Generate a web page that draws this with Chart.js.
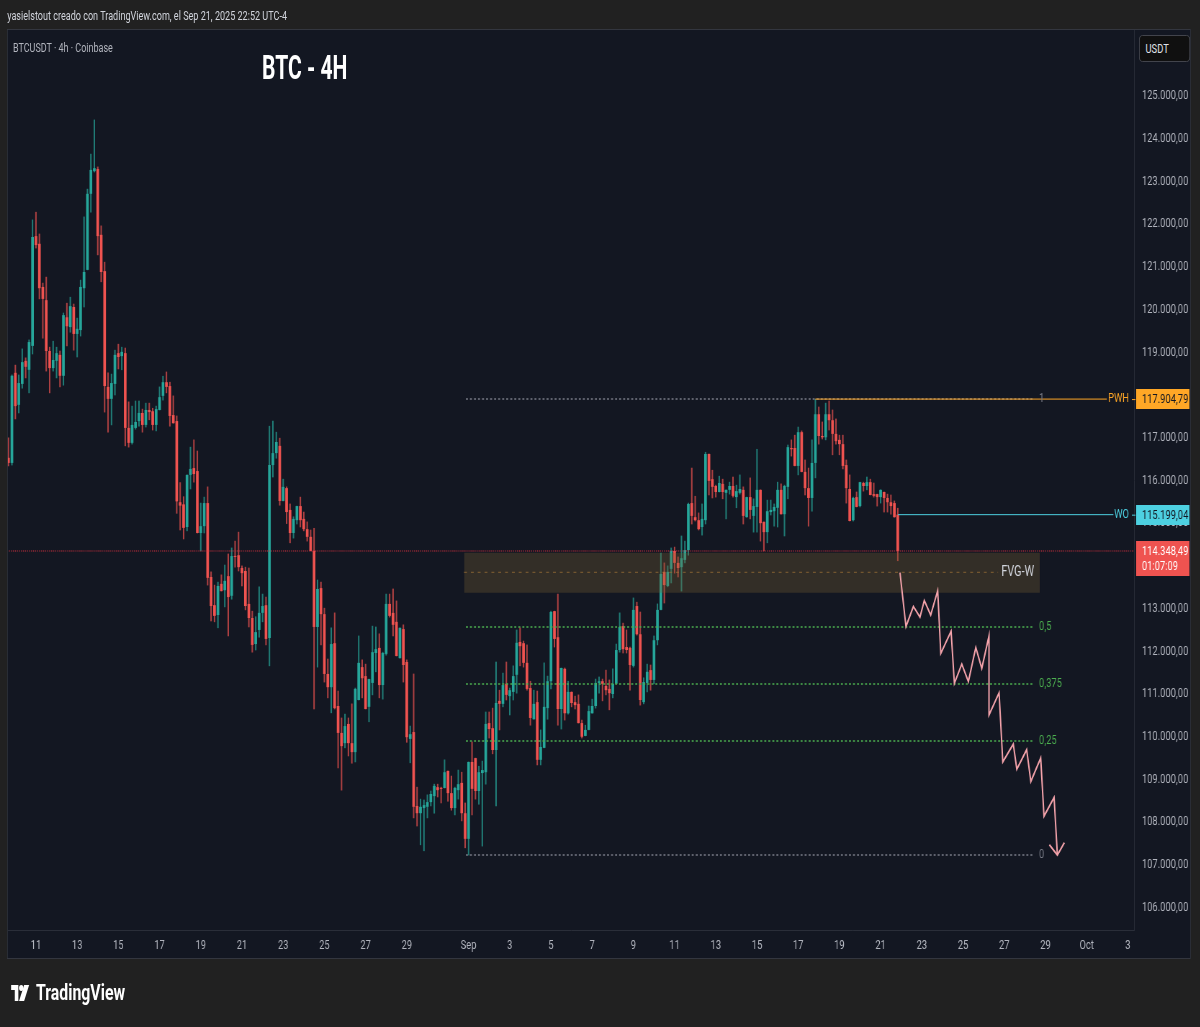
<!DOCTYPE html>
<html>
<head>
<meta charset="utf-8">
<script src="https://cdn.jsdelivr.net/npm/chart.js@4.4.1/dist/chart.umd.min.js"></script>
<style>
  html, body { margin: 0; padding: 0; }
  body { width: 1200px; height: 1027px; overflow: hidden; background: #212121; }
  /* the whole snapshot is squeezed horizontally, like the reference image */
  #stage {
    position: absolute; left: 0; top: 0; width: 1667px; height: 1027px;
    transform: scaleX(0.72); transform-origin: 0 0;
    font-family: Roboto, sans-serif;
  }
  #stage div { position: absolute; white-space: nowrap; }
  #credit { left: 10px; top: 9px; font-size: 12.6px; line-height: 13px; color: #d1d4dc; }
  #panel { left: 9.7px; top: 29px; width: 1644px; height: 930px; box-sizing: border-box; border: 1px solid #33363f; background: #131722; }
  #chart { position: absolute; left: 11.1px; top: 30px; }
  #symbol { left: 18px; top: 41px; font-size: 12.5px; line-height: 13px; color: #b2b5be; }
  #title { left: 364px; top: 50px; font-size: 34px; line-height: 34px; font-weight: bold; color: #ffffff; transform: scaleX(0.86); transform-origin: 0 0; }
  #currency { left: 1582px; top: 35px; width: 71px; height: 27px; box-sizing: border-box; border: 1px solid #4a4d55; border-radius: 5px;
    background: #101010; color: #e0e3eb; font-size: 13px; line-height: 25px; padding-left: 8px; }
  #logo { left: 11px; top: 982px; color: #ffffff; font-size: 22px; line-height: 22px; font-weight: bold; }
  #logo svg { position: absolute; left: 0; top: 3px; }
  #logo span { position: absolute; left: 39px; top: 0; }
</style>
</head>
<body>
<div id="stage">
  <div id="credit">yasielstout creado con TradingView.com, el Sep 21, 2025 22:52 UTC-4</div>
  <div id="panel"></div>
  <canvas id="chart" width="1642" height="928"></canvas>
  <div id="symbol">BTCUSDT · 4h · Coinbase</div>
  <div id="title">BTC - 4H</div>
  <div id="currency">USDT</div>
  <div id="logo">
    <svg width="34" height="16" viewBox="0 0 25 16"><path d="M0 0h10v16H5V5H0z" fill="#fff"/><circle cx="14" cy="3" r="3" fill="#fff"/><path d="M18 0h7l-7 16h-7z" fill="#fff"/></svg>
    <span>TradingView</span>
  </div>
</div>

<script>
// ---------- CONFIG ----------
const FONT = "Roboto, sans-serif";
const UP = "#26a69a";
const DOWN = "#ef5350";
const UP_WICK = "rgba(38,166,154,0.7)";
const DOWN_WICK = "rgba(239,83,80,0.7)";
const CANDLE_START = 9 + 16 / 24;   // Aug 9 16:00, in days of August
const CANDLE_STEP = 4 / 24;         // 4h candles

// ---------- DATA (prices in thousands USDT) ----------
const opens = [
  116.53,116.41,118.52,117.77,118.26,118.80,118.59,119.15,121.72,121.54,
  120.53,120.22,119.03,118.63,118.80,118.94,118.45,119.82,119.59,120.06,
  119.43,119.52,120.50,120.93,122.71,123.24,123.29,121.75,120.90,118.19,
  117.91,118.26,118.98,118.91,118.98,117.23,116.88,117.23,117.39,117.58,
  117.30,117.65,117.62,117.30,117.65,117.98,118.30,118.21,117.53,117.39,
  115.49,115.44,114.91,116.13,116.29,116.22,114.77,114.93,115.47,113.74,
  113.08,112.85,113.58,113.43,113.76,113.30,114.23,114.25,113.95,113.88,
  113.11,112.78,112.17,112.50,112.90,113.08,112.31,116.36,116.64,116.81,
  115.52,115.82,115.31,114.77,115.07,115.40,115.10,114.86,114.68,114.35,
  112.57,113.48,112.87,111.47,111.16,112.19,110.72,110.09,109.85,110.30,
  109.85,109.64,110.86,111.63,111.42,110.70,111.26,111.96,112.08,111.21,
  111.94,113.11,112.90,112.69,111.84,112.52,111.75,109.95,110.11,108.38,
  108.21,108.33,108.36,108.47,108.61,108.82,108.80,108.80,109.20,108.68,
  108.33,108.75,108.92,108.21,107.61,109.41,109.50,108.73,109.15,109.17,
  110.32,110.20,109.69,110.84,110.77,111.24,110.95,111.05,111.45,112.22,
  112.19,111.73,111.14,110.41,110.81,109.46,109.74,110.67,111.30,112.94,
  112.33,110.65,111.59,110.55,111.05,110.81,110.77,110.32,110.02,110.16,
  110.55,110.72,111.26,111.30,111.19,111.12,111.00,111.24,112.03,112.59,
  112.10,112.08,111.66,113.06,112.40,110.81,111.26,111.56,111.33,112.26,
  112.97,113.86,113.53,113.93,114.35,114.07,113.97,114.14,114.37,115.47,
  115.14,115.07,114.91,115.07,116.62,116.03,115.87,115.73,115.92,115.71,
  115.78,115.87,115.61,115.71,115.78,115.14,115.61,115.17,115.38,115.78,
  115.03,114.79,115.26,115.28,115.36,115.78,115.21,115.85,116.76,116.76,
  116.34,117.13,116.20,115.82,115.59,116.41,117.55,117.04,117.01,117.55,
  117.41,117.09,116.95,116.85,116.36,115.80,115.07,115.61,115.40,115.94,
  115.87,115.96,115.68,115.68,115.61,115.73,115.59,115.49,115.47,115.20
];
const highs = [
  117.00,118.47,118.70,118.47,119.08,118.87,119.29,122.10,122.28,121.77,
  120.62,120.76,119.12,119.26,119.12,119.03,119.92,120.15,120.29,120.13,
  119.80,120.69,122.17,122.82,123.64,124.44,123.34,121.96,121.11,118.52,
  118.49,119.05,119.19,119.12,119.10,117.84,117.74,117.86,117.86,117.67,
  117.81,117.81,117.69,117.74,118.19,118.44,118.54,118.30,117.98,117.51,
  115.95,115.62,116.13,116.78,116.95,116.69,115.47,115.61,115.85,113.86,
  113.55,113.62,113.79,114.02,114.28,114.42,114.58,114.79,114.00,113.97,
  113.95,112.94,112.81,113.51,113.34,113.27,117.27,117.39,117.13,116.99,
  116.03,115.85,115.45,115.15,115.40,115.61,115.26,115.03,114.84,114.88,
  113.67,113.62,113.01,111.82,112.55,112.90,111.07,110.44,110.53,110.44,
  110.77,111.14,112.36,111.80,111.70,111.35,112.59,112.57,112.41,111.98,
  113.34,113.34,113.46,113.18,112.55,112.62,111.80,110.25,111.47,108.82,
  108.54,108.52,108.64,108.73,108.89,108.89,108.82,109.46,109.20,109.08,
  108.82,109.22,109.17,108.45,109.41,109.88,109.50,109.31,109.43,110.58,
  110.58,110.67,111.75,111.09,111.49,111.75,111.14,111.66,112.50,112.55,
  112.24,112.15,111.30,111.09,111.07,110.16,111.73,111.42,112.94,112.94,
  113.34,111.61,111.61,111.30,111.05,110.95,110.98,110.39,110.27,110.72,
  110.88,111.35,111.40,111.35,111.56,111.33,111.59,112.17,112.90,112.66,
  112.50,112.10,113.25,113.15,112.92,111.38,111.70,111.68,112.36,113.11,
  114.30,114.07,114.00,114.42,114.44,114.21,114.70,114.58,115.47,116.29,
  115.63,115.24,115.45,116.66,116.62,116.24,115.89,116.10,116.03,115.78,
  115.96,116.08,115.89,116.13,115.85,115.61,116.06,115.57,116.73,115.78,
  115.03,115.54,115.54,115.45,115.96,115.92,115.89,116.83,116.95,117.06,
  117.25,117.16,116.48,116.29,116.95,117.90,117.72,117.37,117.81,117.86,
  117.65,117.44,117.06,117.06,116.48,116.13,115.61,115.73,115.96,115.96,
  116.08,116.03,115.94,115.68,115.78,115.73,115.68,115.66,115.52,115.35
];
const lows = [
  116.34,116.36,117.44,117.58,118.16,118.40,118.05,118.96,121.44,120.25,
  119.33,118.56,118.05,118.56,118.40,118.19,118.23,119.15,119.47,119.05,
  118.89,119.38,120.06,120.93,122.28,123.22,121.28,120.65,117.60,117.13,
  117.30,118.00,118.61,118.59,116.81,116.78,116.85,117.20,117.27,117.13,
  117.25,117.42,117.18,117.16,117.65,117.88,118.05,117.27,117.34,115.23,
  114.84,114.63,114.82,115.80,115.96,114.77,114.35,114.77,113.55,112.71,
  112.69,112.55,113.41,113.04,112.36,113.22,113.97,113.88,113.53,112.97,
  112.57,111.98,112.03,112.33,112.69,112.15,111.66,116.08,116.52,115.42,
  115.52,114.99,114.54,114.65,114.98,114.91,114.82,114.58,114.35,110.65,
  111.63,112.15,111.28,110.91,110.56,110.65,109.27,108.75,109.74,109.55,
  109.38,109.41,110.86,110.91,110.65,110.35,110.98,111.52,110.91,110.88,
  111.91,112.80,112.36,111.89,111.84,111.28,109.87,109.39,108.10,107.91,
  107.47,107.33,108.10,108.38,108.21,108.59,108.45,108.80,108.49,108.28,
  108.17,108.54,108.03,107.40,107.23,108.17,108.54,108.42,107.44,108.89,
  109.97,109.60,108.38,110.16,110.70,110.86,110.51,110.86,111.02,111.66,
  111.63,111.09,110.27,110.41,109.34,109.34,109.74,110.41,111.12,112.10,
  110.27,110.18,110.39,110.53,110.70,110.65,110.32,109.97,110.02,110.16,
  110.55,110.67,111.02,110.84,110.98,110.63,110.91,111.24,111.98,111.96,
  111.96,111.09,111.63,112.38,110.74,110.77,111.05,111.09,111.24,112.15,
  112.97,113.13,113.51,113.60,113.83,113.74,113.41,114.07,114.25,114.98,
  115.05,114.84,114.72,114.98,115.66,115.59,115.61,115.73,115.57,115.10,
  115.68,115.61,115.36,115.68,114.98,115.14,115.10,114.79,114.79,114.58,
  114.35,114.54,115.19,114.93,114.91,115.21,114.70,115.57,116.57,116.34,
  116.13,116.20,115.66,114.93,115.28,116.06,116.85,116.97,116.95,117.18,
  116.60,116.85,116.60,116.27,115.47,115.05,115.05,115.38,115.38,115.75,
  115.78,115.66,115.61,115.40,115.47,115.26,115.26,115.21,115.14,114.12
];
const closes = [
  116.41,118.45,117.74,118.28,118.77,118.66,119.24,121.70,121.51,120.50,
  120.25,119.03,118.63,118.82,118.98,118.45,119.87,119.61,120.08,119.43,
  119.55,120.53,120.88,122.71,123.27,123.31,121.72,120.88,118.21,117.91,
  118.28,118.94,118.89,119.01,117.23,116.88,117.30,117.37,117.58,117.30,
  117.65,117.60,117.30,117.67,117.95,118.30,118.19,117.51,117.34,115.51,
  115.41,114.89,116.13,116.27,116.15,114.77,114.93,115.47,113.72,113.06,
  112.83,113.53,113.41,113.65,113.27,114.23,114.21,113.97,113.83,113.06,
  112.78,112.15,112.45,112.90,113.06,112.29,116.36,116.64,116.90,115.52,
  115.85,115.26,114.77,115.10,115.40,115.07,114.86,114.68,114.35,112.57,
  113.46,112.87,111.47,111.16,112.17,110.67,110.09,109.78,110.25,109.85,
  109.64,111.12,111.73,111.37,110.65,111.35,111.98,112.05,111.21,111.96,
  113.11,112.83,112.62,111.89,112.55,111.68,109.99,110.06,108.36,108.21,
  108.36,108.40,108.47,108.66,108.85,108.75,108.78,109.17,108.68,108.33,
  108.80,108.89,108.21,107.61,109.41,108.78,108.73,109.17,109.22,110.30,
  110.18,109.69,110.79,110.77,111.21,110.98,111.09,111.42,112.20,112.12,
  111.73,111.12,110.44,110.77,109.46,109.76,110.70,111.30,112.92,112.29,
  110.65,111.61,110.55,111.05,110.79,110.74,110.32,110.00,110.16,110.60,
  110.72,111.26,111.30,111.24,111.09,111.02,111.24,112.03,112.57,112.05,
  112.03,111.68,112.97,112.40,110.86,111.28,111.52,111.33,112.26,112.97,
  113.81,113.55,113.86,114.35,114.07,113.95,114.18,114.37,115.45,115.17,
  115.07,114.86,115.10,116.62,115.99,115.85,115.73,115.94,115.73,115.78,
  115.87,115.64,115.75,115.80,115.17,115.61,115.31,115.40,115.78,115.00,
  114.79,115.28,115.31,115.38,115.78,115.21,115.87,116.78,116.73,116.34,
  117.13,116.20,115.82,115.59,116.41,117.55,117.04,117.01,117.55,117.41,
  117.09,116.92,116.85,116.34,115.82,115.05,115.59,115.38,115.96,115.87,
  115.96,115.66,115.64,115.61,115.78,115.59,115.49,115.40,115.14,114.35
];

// x axis (days counted from Aug 0)
const xTickDays = [11,13,15,17,19,21,23,25,27,29,32,34,36,38,40,42,44,46,48,50,52,54,56,58,60,62,64];
const xTickLabels = ["11","13","15","17","19","21","23","25","27","29","Sep","3","5","7","9","11","13","15","17","19","21","23","25","27","29","Oct","3"];
const yTickValues = [106000,107000,108000,109000,110000,111000,112000,113000,114000,115000,116000,
  117000,118000,119000,120000,121000,122000,123000,124000,125000,126000];

// drawn projection (days, thousands)
const projDays = [52.94,53.23,53.59,53.91,54.12,54.43,54.77,54.92,55.42,55.58,55.94,56.26,56.62,56.91,57.26,57.26,57.75,57.93,58.44,58.61,59.09,59.29,59.77,59.93,60.42,60.58];
const projPrices = [113.84,112.58,113.05,112.80,113.19,112.85,113.42,111.95,112.47,111.25,111.70,111.29,112.09,111.60,112.36,110.51,111.03,109.41,109.83,109.24,109.70,108.95,109.50,108.14,108.58,107.23];
const arrowDays = [60.19,60.58,60.92];
const arrowPrices = [107.47,107.23,107.52];

// fibonacci retracement
const fibHigh = 117904.79;
const fibLow = 107230;
const fibLevels = [1, 0.5, 0.375, 0.25, 0];
const fibLabels = ["1", "0,5", "0,375", "0,25", "0"];
const fibColors = ["#787b86", "#4caf50", "#4caf50", "#4caf50", "#787b86"];
const fibStartDay = 31.87, fibEndDay = 59.40, fibLabelDay = 59.69;

// weekly fair value gap
const fvgTop = 114310, fvgBottom = 113370, fvgMid = 113850;
const fvgStartDay = 31.78, fvgEndDay = 59.73, fvgMidEndDay = 57.70;

// key levels
const pwhPrice = 117904.79, pwhStartDay = 48.83, pwhEndDay = 62.98;
const woPrice = 115199.04, woStartDay = 52.84, woEndDay = 63.30;
const lastPrice = 114348.49;
const countdown = "01:07:09";

// ---------- HELPERS ----------
function fmtPrice(v) {
  const parts = v.toFixed(2).split(".");
  return parts[0].replace(/\B(?=(\d{3})+(?!\d))/g, ".") + "," + parts[1];
}
const dayOf = i => CANDLE_START + i * CANDLE_STEP;
const isUp = i => closes[i] >= opens[i];
const seg = (d0, d1, p) => [{ x: d0, y: p }, { x: d1, y: p }];

const bodies = opens.map((o, i) => ({ x: dayOf(i), y: [o * 1000, closes[i] * 1000] }));
const wicks = lows.map((l, i) => ({ x: dayOf(i), y: [l * 1000, highs[i] * 1000] }));
const projection = projDays.map((d, i) => ({ x: d, y: projPrices[i] * 1000 }));
const arrow = arrowDays.map((d, i) => ({ x: d, y: arrowPrices[i] * 1000 }));
const fibPrice = lvl => fibLow + lvl * (fibHigh - fibLow);

function lineSet(data, color, opts) {
  return Object.assign({
    type: "line", data: data, borderColor: color, borderWidth: 1,
    pointRadius: 0, fill: false, tension: 0, order: 1
  }, opts || {});
}

const datasets = [
  lineSet(seg(9, 66, lastPrice), "rgba(242,54,69,0.85)", { borderDash: [1.4, 1.4], order: 0 }),
  lineSet(projection, "#f4a3ab", { borderWidth: 2, order: 0 }),
  lineSet(arrow, "#f4a3ab", { borderWidth: 2, order: 0 }),
  lineSet(seg(pwhStartDay, pwhEndDay, pwhPrice), "#ffa726", { order: 0 }),
  lineSet(seg(woStartDay, woEndDay, woPrice), "#4dd0e1", { order: 0 }),
  lineSet(seg(fvgStartDay, fvgEndDay, fvgTop), "rgba(0,0,0,0)", {
    borderWidth: 0, fill: { target: { value: fvgBottom } }, backgroundColor: "rgba(120,95,50,0.32)", order: 1
  }),
  lineSet(seg(fvgStartDay, fvgMidEndDay, fvgMid), "rgba(190,130,60,0.7)", { borderDash: [4, 5.5], order: 1 }),
];
fibLevels.forEach((lvl, k) => {
  datasets.push(lineSet(seg(fibStartDay, fibEndDay, fibPrice(lvl)), fibColors[k], { borderWidth: 1.5, borderDash: [2.8, 2.8], order: 1 }));
});
datasets.push({
  type: "bar", data: bodies, grouped: false, order: 2,
  backgroundColor: c => (isUp(c.dataIndex) ? UP : DOWN),
  barPercentage: 0.78, categoryPercentage: 1, minBarLength: 1, borderWidth: 0
});
datasets.push({
  type: "bar", data: wicks, grouped: false, order: 3,
  backgroundColor: c => (isUp(c.dataIndex) ? UP_WICK : DOWN_WICK),
  barThickness: 1.4, borderWidth: 0
});

// ---------- TEXT + PRICE TAGS ----------
const overlayPlugin = {
  id: "overlay",
  afterDatasetsDraw(chart) {
    const { ctx, scales: { x, y }, chartArea } = chart;
    ctx.save();
    ctx.textBaseline = "middle";
    ctx.textAlign = "left";
    ctx.font = "13px " + FONT;
    fibLevels.forEach((lvl, k) => {
      ctx.fillStyle = fibColors[k];
      ctx.fillText(fibLabels[k], x.getPixelForValue(fibLabelDay), y.getPixelForValue(fibPrice(lvl)));
    });
    ctx.font = "15px " + FONT;
    ctx.fillStyle = "#d1d4dc";
    ctx.textAlign = "right";
    ctx.fillText("FVG-W", x.getPixelForValue(fvgEndDay) - 8, y.getPixelForValue(fvgMid));

    ctx.font = "13px " + FONT;
    const tag = (txt, price, color) => {
      const py = y.getPixelForValue(price);
      ctx.fillStyle = color;
      ctx.fillText(txt, chartArea.right - 7, py);
      ctx.strokeStyle = color;
      ctx.beginPath();
      ctx.moveTo(chartArea.right - 3, py + 0.5);
      ctx.lineTo(chartArea.right + 2, py + 0.5);
      ctx.stroke();
    };
    tag("PWH", pwhPrice, "#ffa726");
    tag("WO", woPrice, "#4dd0e1");
    ctx.restore();
  },
  afterDraw(chart) {
    const { ctx, scales: { y }, chartArea } = chart;
    const left = chartArea.right + 3;
    const w = chart.width - left - 1;
    ctx.save();
    ctx.font = "13px " + FONT;
    ctx.textBaseline = "middle";
    ctx.textAlign = "left";
    const box = (price, bg, fg, extra) => {
      const py = Math.round(y.getPixelForValue(price));
      const h = extra ? 35 : 20;
      const top = py - 10;
      ctx.fillStyle = bg;
      ctx.fillRect(left, top, w, h);
      ctx.fillStyle = fg;
      ctx.fillText(fmtPrice(price), left + 8, py + 1);
      if (extra) ctx.fillText(extra, left + 8, py + 16);
    };
    box(pwhPrice, "#ffa726", "#131722");
    box(woPrice, "#4dd0e1", "#131722");
    box(lastPrice, DOWN, "#ffffff", countdown);
    ctx.restore();
  }
};

// ---------- CHART ----------
new Chart(document.getElementById("chart").getContext("2d"), {
  type: "bar",
  data: { datasets: datasets },
  options: {
    responsive: false,
    animation: false,
    events: [],
    layout: { padding: 0 },
    plugins: { legend: { display: false }, tooltip: { enabled: false } },
    scales: {
      x: {
        type: "linear", min: 9.64, max: 64.30, offset: false,
        grid: { display: false },
        border: { display: true, color: "#2a2e39" },
        afterBuildTicks: s => { s.ticks = xTickDays.map(v => ({ value: v })); },
        afterFit: s => { s.height = 28; s.paddingLeft = 0; s.paddingRight = 0; },
        ticks: {
          autoSkip: false, maxRotation: 0, padding: 0, color: "#b2b5be",
          font: { family: FONT, size: 13 },
          callback: (v, i) => xTickLabels[i]
        }
      },
      y: {
        position: "right", min: 105476, max: 126545,
        grid: { display: false },
        border: { display: true, color: "#2a2e39" },
        afterBuildTicks: s => { s.ticks = yTickValues.map(v => ({ value: v })); },
        afterFit: s => { s.width = 78; s.paddingTop = 0; s.paddingBottom = 0; },
        ticks: {
          padding: 3, color: "#b2b5be",
          font: { family: FONT, size: 13 },
          callback: v => fmtPrice(v)
        }
      }
    }
  },
  plugins: [overlayPlugin]
});
</script>
</body>
</html>
